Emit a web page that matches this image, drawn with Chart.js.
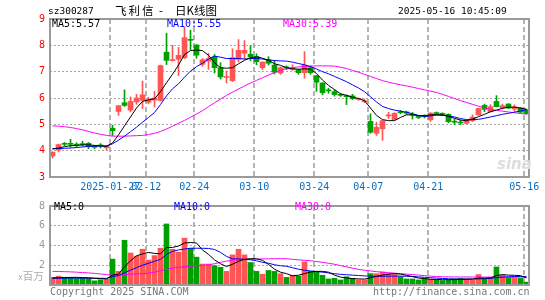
<!DOCTYPE html>
<html>
<head>
<meta charset="utf-8">
<script src="https://cdn.jsdelivr.net/npm/chart.js@4/dist/chart.umd.min.js"></script>
<style>
  body { margin: 0; background: #fff; width: 545px; height: 300px; position: relative; overflow: hidden;
         font-family: "DejaVu Sans Mono", "Noto Sans CJK SC", monospace; font-size: 10px; }
  canvas { position: absolute; left: 0; }
  #kc { top: 0; }
  #vc { top: 195px; }
  .t { position: absolute; white-space: pre; line-height: 10px; }
  .cjk { font-family: "Noto Sans CJK SC", sans-serif; }
</style>
</head>
<body>
<canvas id="kc" width="545" height="195"></canvas>
<canvas id="vc" width="545" height="105"></canvas>

<div class="t" style="left:48px;top:6px;font-size:9.5px">sz300287</div>
<div class="t cjk" style="left:115px;top:4px;font-size:11.5px;line-height:12px;letter-spacing:2px">飞利信</div>
<div class="t cjk" style="left:159px;top:4px;font-size:11.5px;line-height:12px">-</div>
<div class="t cjk" style="left:175px;top:4px;font-size:11.5px;line-height:12px">日K线图</div>
<div class="t" style="left:398px;top:6px;font-size:9.5px">2025-05-16 10:45:09</div>

<div class="t" style="left:52px;top:19px">MA5:5.57</div>
<div class="t" style="left:167px;top:19px;color:#0000ff">MA10:5.55</div>
<div class="t" style="left:283px;top:19px;color:#ff00ff">MA30:5.39</div>

<div class="t" style="left:54px;top:202px">MA5:0</div>
<div class="t" style="left:174px;top:202px;color:#0000ff">MA10:0</div>
<div class="t" style="left:295px;top:202px;color:#ff00ff">MA30:0</div>

<div class="t" style="left:18px;top:271px;color:#aaa"><span style="font-size:8px">x</span><span class="cjk" style="font-size:10.5px">百万</span></div>
<div class="t" style="left:50px;top:287px;color:#777">Copyright 2025 SINA.COM</div>
<div class="t" style="left:373px;top:287px;color:#777">http://finance.sina.com.cn</div>
<div class="t" style="left:497px;top:155px;color:#ddd;font:italic bold 15px 'DejaVu Sans',sans-serif">sina</div>

<script>
// daily bars, oldest first (80 trading days up to 2025-05-16)
const open  = [3.80,4.02,4.26,4.26,4.23,4.26,4.28,4.15,4.20,4.11,
               4.85,5.49,5.82,5.54,5.85,5.91,5.84,5.92,5.91,7.74,
               7.42,7.47,7.53,8.22,8.01,7.28,7.40,7.56,7.15,6.78,
               6.66,7.47,7.70,7.66,7.58,7.15,7.45,7.25,6.95,7.17,
               7.08,7.07,6.96,7.15,6.84,6.57,6.30,6.24,6.13,6.08,
               6.08,5.95,5.86,5.11,4.66,4.83,5.32,5.18,5.47,5.47,
               5.38,5.29,5.31,5.17,5.43,5.40,5.38,5.11,5.07,5.04,
               5.14,5.36,5.72,5.48,5.87,5.62,5.77,5.58,5.62,5.55];
const high  = [3.96,4.25,4.31,4.43,4.30,4.36,4.31,4.20,4.27,4.20,
               4.97,5.71,6.31,6.04,6.14,6.64,6.03,6.25,7.25,8.46,
               8.00,7.92,8.69,8.57,8.03,7.50,7.70,7.65,7.34,7.03,
               7.87,8.22,8.18,7.98,7.68,7.38,7.57,7.43,7.18,7.22,
               7.26,7.10,7.76,7.22,6.86,6.58,6.37,6.31,6.17,6.12,
               6.14,6.00,5.96,5.40,5.08,5.15,5.46,5.44,5.53,5.50,
               5.45,5.33,5.36,5.44,5.47,5.44,5.40,5.20,5.17,5.18,
               5.36,5.62,5.77,5.75,6.09,5.77,5.79,5.74,5.64,5.58];
const low   = [3.72,3.95,4.19,4.13,4.13,4.17,4.07,4.07,4.10,4.03,
               4.57,5.34,5.68,5.47,5.76,5.60,5.78,5.66,5.88,7.27,
               7.40,6.85,7.50,7.83,7.51,7.20,7.09,6.95,6.72,6.57,
               6.62,7.37,7.47,7.42,7.26,7.08,7.25,6.91,6.90,7.08,
               7.05,6.90,6.75,6.90,6.25,6.12,6.18,6.07,6.06,5.75,
               5.94,5.91,5.82,4.66,4.58,4.39,5.22,5.16,5.40,5.38,
               5.20,5.22,5.24,5.11,5.36,5.33,5.06,4.99,4.99,5.02,
               5.10,5.34,5.48,5.46,5.66,5.58,5.60,5.49,5.44,5.38];
const close = [3.94,4.23,4.24,4.24,4.21,4.23,4.16,4.13,4.18,4.18,
               4.76,5.71,5.72,5.87,6.00,6.12,5.93,6.00,7.23,7.43,
               7.45,7.62,8.29,8.19,7.63,7.45,7.50,7.15,6.80,6.81,
               7.53,7.81,7.81,7.56,7.38,7.36,7.32,6.98,7.15,7.14,
               7.15,6.96,7.25,6.96,6.60,6.20,6.27,6.13,6.10,6.05,
               5.97,5.97,5.88,4.70,4.89,5.14,5.34,5.42,5.44,5.42,
               5.35,5.26,5.29,5.43,5.41,5.38,5.10,5.08,5.05,5.14,
               5.27,5.60,5.57,5.67,5.67,5.71,5.62,5.67,5.46,5.41];

// moving averages as drawn on the chart
const ma5  = [4.06,4.10,4.15,4.19,4.20,4.22,4.22,4.20,4.18,4.17,
              4.29,4.60,4.94,5.28,5.62,5.87,5.93,5.97,6.24,6.58,
              6.90,7.25,7.65,7.80,7.82,7.80,7.62,7.34,7.15,7.13,
              7.15,7.30,7.43,7.53,7.56,7.51,7.43,7.30,7.24,7.15,
              7.11,7.09,7.11,7.09,6.93,6.68,6.48,6.32,6.16,6.10,
              6.03,5.98,5.90,5.62,5.34,5.18,5.14,5.14,5.26,5.36,
              5.36,5.33,5.33,5.36,5.37,5.36,5.30,5.23,5.16,5.14,
              5.20,5.29,5.38,5.48,5.54,5.61,5.65,5.65,5.62,5.57];
const ma10 = [4.08,4.08,4.09,4.10,4.12,4.14,4.16,4.17,4.18,4.17,
              4.26,4.40,4.55,4.72,4.89,5.08,5.26,5.45,5.75,6.08,
              6.35,6.54,6.79,7.02,7.19,7.32,7.48,7.59,7.55,7.50,
              7.50,7.50,7.48,7.50,7.50,7.48,7.45,7.42,7.41,7.40,
              7.36,7.31,7.26,7.19,7.10,7.00,6.92,6.82,6.72,6.62,
              6.50,6.38,6.24,6.05,5.85,5.68,5.60,5.54,5.50,5.46,
              5.40,5.34,5.30,5.32,5.35,5.34,5.32,5.28,5.22,5.18,
              5.18,5.19,5.23,5.28,5.33,5.38,5.42,5.46,5.51,5.55];
const ma30 = [4.94,4.93,4.91,4.88,4.84,4.79,4.73,4.67,4.62,4.58,
              4.55,4.55,4.55,4.56,4.57,4.58,4.61,4.66,4.73,4.82,
              4.93,5.04,5.15,5.27,5.39,5.52,5.67,5.82,5.96,6.10,
              6.22,6.34,6.46,6.57,6.67,6.77,6.87,6.97,7.05,7.11,
              7.15,7.18,7.20,7.21,7.22,7.22,7.22,7.21,7.17,7.12,
              7.05,6.98,6.90,6.82,6.74,6.66,6.60,6.55,6.50,6.46,
              6.41,6.36,6.31,6.26,6.21,6.14,6.06,5.98,5.90,5.83,
              5.76,5.69,5.62,5.57,5.53,5.50,5.47,5.44,5.41,5.39];

// volume, millions of shares
const vol = [0.78,0.90,0.78,0.74,0.66,0.68,0.66,0.42,0.53,0.58,
             2.62,1.38,4.53,3.24,2.92,3.62,2.53,2.98,3.72,6.18,
             3.62,3.33,4.74,3.72,2.82,2.12,2.12,1.96,1.79,1.38,
             3.05,3.62,3.05,2.28,1.38,1.09,1.47,1.38,1.15,0.77,
             0.99,0.90,2.34,1.38,1.31,0.99,0.61,0.67,0.51,0.83,
             0.67,0.51,0.51,1.15,1.15,1.31,1.15,1.06,0.83,0.61,
             0.61,0.51,0.67,0.58,0.51,0.45,0.51,0.61,0.67,0.61,
             0.51,1.06,0.67,0.74,1.83,0.99,0.74,0.74,0.67,0.29];
const vma5  = [0.72,0.74,0.76,0.77,0.78,0.75,0.73,0.68,0.65,0.62,
               1.00,1.10,1.85,2.45,2.95,3.15,3.30,3.20,3.15,3.80,
               3.80,3.95,4.25,4.30,4.25,3.55,3.10,2.55,2.15,1.87,
               2.10,2.40,2.60,2.67,2.66,2.50,2.08,1.60,1.30,1.15,
               0.93,0.99,1.15,1.31,1.38,1.38,1.30,1.00,0.80,0.72,
               0.65,0.62,0.60,0.73,0.87,1.00,1.10,1.15,1.10,0.98,
               0.85,0.70,0.65,0.58,0.56,0.54,0.54,0.55,0.56,0.58,
               0.60,0.70,0.70,0.72,0.95,1.06,1.00,0.98,0.95,0.72];
const vma10 = [0.68,0.68,0.69,0.70,0.70,0.70,0.70,0.69,0.68,0.67,
               0.85,0.95,1.25,1.50,1.75,2.00,2.20,2.40,2.60,3.10,
               3.40,3.55,3.65,3.72,3.72,3.72,3.70,3.60,3.30,2.90,
               2.65,2.65,2.60,2.55,2.45,2.30,2.20,2.05,1.95,1.90,
               1.75,1.60,1.50,1.42,1.36,1.30,1.22,1.15,1.08,1.04,
               1.00,0.96,0.92,0.90,0.88,0.88,0.89,0.90,0.90,0.88,
               0.86,0.82,0.78,0.74,0.70,0.66,0.63,0.61,0.60,0.60,
               0.60,0.62,0.64,0.66,0.75,0.80,0.83,0.86,0.87,0.85];
const vma30 = [1.38,1.37,1.35,1.33,1.30,1.26,1.22,1.18,1.12,1.05,
               1.00,1.00,1.05,1.10,1.12,1.15,1.20,1.30,1.45,1.60,
               1.70,1.80,1.85,1.90,1.95,2.00,2.05,2.15,2.30,2.42,
               2.50,2.55,2.58,2.60,2.62,2.64,2.65,2.66,2.66,2.66,
               2.60,2.55,2.50,2.45,2.38,2.30,2.20,2.10,1.96,1.85,
               1.70,1.58,1.50,1.42,1.35,1.30,1.25,1.20,1.15,1.10,
               1.06,1.00,0.95,0.90,0.86,0.83,0.82,0.81,0.81,0.81,
               0.81,0.80,0.80,0.80,0.80,0.80,0.80,0.80,0.80,0.80];

// axis labels
const dateIdx = [10, 16, 24, 34, 44, 53, 63, 79];
const dateLabels = ['2025-01-27', '02-12', '02-24', '03-10', '03-24', '04-07', '04-21', '05-16'];
const priceTicks = [3, 4, 5, 6, 7, 8, 9];
const volTicks = [2, 4, 6, 8];

const RED = '#ff5555', GREEN = '#00a000';
const colors = close.map((c, i) => c >= open[i] ? RED : GREEN);
const xy = arr => arr.map((v, i) => ({ x: i, y: v }));
const mono = { family: 'DejaVu Sans Mono', size: 10 };

// bars sit every 6px; the dashed date lines run 2px left of the bar centre
const X_MIN = -0.42, X_MAX = 79.42, LINE_SHIFT = -0.38;

const frame = {
  id: 'frame',
  afterDatasetsDraw(chart) {
    const { ctx, chartArea: a } = chart;
    ctx.save();
    ctx.strokeStyle = '#9a9a9a';
    ctx.lineWidth = 2;
    ctx.strokeRect(a.left, a.top, a.right - a.left, a.bottom - a.top);
    ctx.restore();
  }
};

function maLine(data, color) {
  return { type: 'line', data: xy(data), borderColor: color, borderWidth: 1,
           pointRadius: 0, tension: 0, order: 0 };
}

function xScale(showLabels) {
  return {
    type: 'linear', min: X_MIN, max: X_MAX, offset: false,
    afterBuildTicks: s => { s.ticks = dateIdx.map(i => ({ value: i + LINE_SHIFT })); },
    ticks: {
      display: showLabels, autoSkip: false, maxRotation: 0, padding: 4,
      color: '#0a6fc2', font: mono,
      callback: (v, k) => dateLabels[k]
    },
    grid: { color: '#b4b4b4', lineWidth: 2, drawTicks: false, offset: false },
    border: { display: false, dash: [5, 3] },
    afterFit: s => { s.height = showLabels ? 18 : 0; }
  };
}

new Chart(document.getElementById('kc'), {
  type: 'bar',
  data: {
    datasets: [
      maLine(ma5, '#000000'),
      maLine(ma10, '#0000ff'),
      maLine(ma30, '#ff00ff'),
      { data: open.map((o, i) => ({ x: i, y: [o, close[i]] })), backgroundColor: colors,
        barThickness: 5, minBarLength: 1, grouped: false, order: 1 },
      { data: low.map((l, i) => ({ x: i, y: [l, high[i]] })), backgroundColor: colors,
        barThickness: 1, grouped: false, order: 2 }
    ]
  },
  options: {
    responsive: false,
    animation: false,
    layout: { padding: { top: 19, right: 16, left: 0, bottom: 0 } },
    plugins: { legend: { display: false }, tooltip: { enabled: false } },
    scales: {
      x: xScale(true),
      y: {
        min: 3, max: 9,
        afterBuildTicks: s => { s.ticks = priceTicks.map(v => ({ value: v })); },
        ticks: { color: '#ff0000', font: mono, padding: 5 },
        grid: { color: '#a8a8a8', drawTicks: false },
        border: { display: false, dash: [2, 2] },
        afterFit: s => { s.width = 50; }
      }
    }
  },
  plugins: [frame]
});

new Chart(document.getElementById('vc'), {
  type: 'bar',
  data: {
    datasets: [
      maLine(vma5, '#000000'),
      maLine(vma10, '#0000ff'),
      maLine(vma30, '#ff00ff'),
      { data: xy(vol), backgroundColor: colors, barThickness: 5, grouped: false, order: 1 }
    ]
  },
  options: {
    responsive: false,
    animation: false,
    layout: { padding: { top: 7, right: 16, left: 0, bottom: 15 } },
    plugins: { legend: { display: false }, tooltip: { enabled: false } },
    scales: {
      x: xScale(false),
      y: {
        min: 0, max: 8,
        afterBuildTicks: s => { s.ticks = volTicks.map(v => ({ value: v })); },
        ticks: { color: '#999999', font: mono, padding: 5 },
        grid: { color: '#a8a8a8', drawTicks: false },
        border: { display: false, dash: [2, 2] },
        afterFit: s => { s.width = 50; }
      }
    }
  },
  plugins: [frame]
});
</script>
</body>
</html>
